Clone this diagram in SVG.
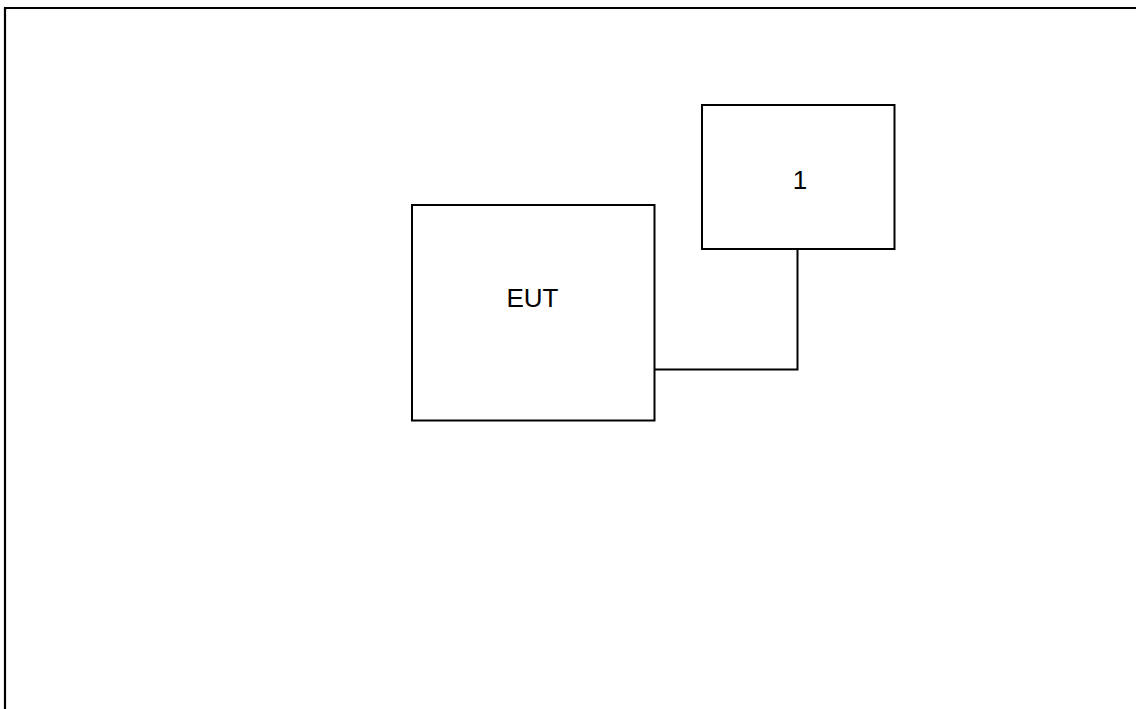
<svg xmlns="http://www.w3.org/2000/svg" width="1136" height="709" viewBox="0 0 1136 709">
<style>
.box{fill:#fff;stroke:#000;stroke-width:2}
.lbl{font-family:"Liberation Sans",Arial,sans-serif;font-size:26px;fill:#000;text-anchor:middle}
.wire{fill:none;stroke:#000;stroke-width:2}
</style>
<rect width="1136" height="709" fill="#fff"/>
<path d="M5,720 V8 H1140" fill="none" stroke="#000" stroke-width="2.2"/>
<g id="connectors">
<path class="wire" d="M654,369.5 H797.5 V249"/>
</g>
<g id="node-eut">
<rect class="box" x="412" y="205" width="242.5" height="215.5"/>
<text class="lbl" x="532.5" y="307">EUT</text>
</g>
<g id="node-1">
<rect class="box" x="702" y="105" width="192.5" height="144"/>
<text class="lbl" x="800" y="188.5">1</text>
</g>
</svg>
